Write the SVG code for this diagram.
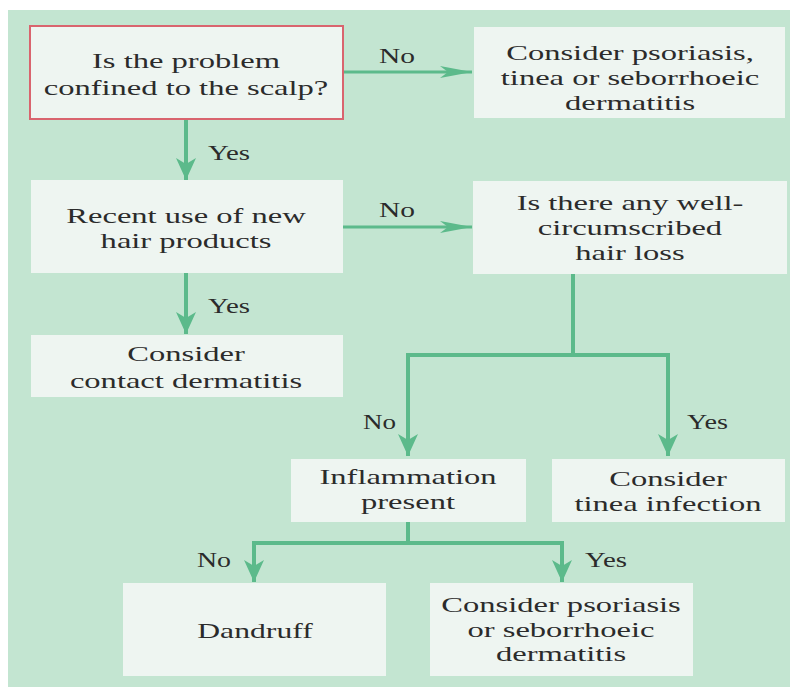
<svg xmlns="http://www.w3.org/2000/svg" width="793" height="687" viewBox="0 0 793 687">
<style>
.box{fill:#eef5f1;}
.red{stroke:#d9646e;stroke-width:2;}
.t{font-family:"Liberation Serif","Times New Roman",serif;font-size:22px;fill:#2b2b2b;text-anchor:middle;}
.lab{font-family:"Liberation Serif","Times New Roman",serif;font-size:21px;fill:#2b2b2b;}
.ln{fill:none;stroke:#5cba8b;stroke-width:4;}
.lnh{fill:none;stroke:#5cba8b;stroke-width:3;}
</style>
<defs>
<marker id="av" markerUnits="userSpaceOnUse" markerWidth="24" markerHeight="22" refX="22" refY="10" orient="auto">
<path d="M0,0 L22,10 L0,20 L6,10 z" fill="#5cba8b"/>
</marker>
<marker id="ah" markerUnits="userSpaceOnUse" markerWidth="34" markerHeight="16" refX="32" refY="7" orient="auto">
<path d="M0,1 L32,7 L0,13 L8,7 z" fill="#5cba8b"/>
</marker>
</defs>
<rect x="0" y="0" width="793" height="687" fill="#ffffff"/>
<rect x="8" y="10" width="782" height="677" fill="#c3e5d1"/>

<g id="connectors">
<line class="lnh" x1="343" y1="72" x2="472" y2="72" marker-end="url(#ah)"/>
<line class="ln" x1="186" y1="119" x2="186" y2="180" marker-end="url(#av)"/>
<line class="lnh" x1="343" y1="227" x2="472" y2="227" marker-end="url(#ah)"/>
<line class="ln" x1="186" y1="273" x2="186" y2="334" marker-end="url(#av)"/>
<polyline class="ln" points="573,274 573,355 408,355 408,456" marker-end="url(#av)"/>
<polyline class="ln" points="573,355 668,355 668,456" marker-end="url(#av)"/>
<polyline class="ln" points="408,522 408,543 254,543 254,582" marker-end="url(#av)"/>
<polyline class="ln" points="408,543 562,543 562,582" marker-end="url(#av)"/>
<text class="lab" x="379" y="63" textLength="36" lengthAdjust="spacingAndGlyphs">No</text>
<text class="lab" x="208" y="160" textLength="42" lengthAdjust="spacingAndGlyphs">Yes</text>
<text class="lab" x="379" y="217" textLength="36" lengthAdjust="spacingAndGlyphs">No</text>
<text class="lab" x="208" y="313" textLength="42" lengthAdjust="spacingAndGlyphs">Yes</text>
<text class="lab" x="363" y="429" textLength="33" lengthAdjust="spacingAndGlyphs">No</text>
<text class="lab" x="687" y="429" textLength="41" lengthAdjust="spacingAndGlyphs">Yes</text>
<text class="lab" x="197" y="567" textLength="34" lengthAdjust="spacingAndGlyphs">No</text>
<text class="lab" x="585" y="567" textLength="42" lengthAdjust="spacingAndGlyphs">Yes</text>
</g>

<g id="n1">
<rect class="box red" x="30" y="26" width="313" height="93"/>
<text class="t" transform="translate(186 0) scale(1.48 1)"><tspan x="0" y="68">Is the problem</tspan><tspan x="0" y="95">confined to the scalp?</tspan></text>
</g>
<g id="n2">
<rect class="box" x="474" y="27" width="311" height="91"/>
<text class="t" transform="translate(630 0) scale(1.48 1)"><tspan x="0" y="60">Consider psoriasis,</tspan><tspan x="0" y="85">tinea or seborrhoeic</tspan><tspan x="0" y="110">dermatitis</tspan></text>
</g>
<g id="n3">
<rect class="box" x="31" y="180" width="312" height="93"/>
<text class="t" transform="translate(186 0) scale(1.48 1)"><tspan x="0" y="223">Recent use of new</tspan><tspan x="0" y="248">hair products</tspan></text>
</g>
<g id="n4">
<rect class="box" x="473" y="181" width="314" height="93"/>
<text class="t" transform="translate(630 0) scale(1.48 1)"><tspan x="0" y="210">Is there any well-</tspan><tspan x="0" y="235">circumscribed</tspan><tspan x="0" y="260">hair loss</tspan></text>
</g>
<g id="n5">
<rect class="box" x="31" y="335" width="312" height="62"/>
<text class="t" transform="translate(186 0) scale(1.48 1)"><tspan x="0" y="361">Consider</tspan><tspan x="0" y="388">contact dermatitis</tspan></text>
</g>
<g id="n6">
<rect class="box" x="291" y="459" width="235" height="63"/>
<text class="t" transform="translate(408 0) scale(1.48 1)"><tspan x="0" y="484">Inflammation</tspan><tspan x="0" y="509">present</tspan></text>
</g>
<g id="n7">
<rect class="box" x="552" y="459" width="233" height="63"/>
<text class="t" transform="translate(668 0) scale(1.48 1)"><tspan x="0" y="486">Consider</tspan><tspan x="0" y="511">tinea infection</tspan></text>
</g>
<g id="n8">
<rect class="box" x="123" y="583" width="263" height="93"/>
<text class="t" transform="translate(255 0) scale(1.44 1)"><tspan x="0" y="638">Dandruff</tspan></text>
</g>
<g id="n9">
<rect class="box" x="430" y="583" width="263" height="93"/>
<text class="t" transform="translate(561 0) scale(1.48 1)"><tspan x="0" y="612">Consider psoriasis</tspan><tspan x="0" y="637">or seborrhoeic</tspan><tspan x="0" y="661">dermatitis</tspan></text>
</g>
</svg>
